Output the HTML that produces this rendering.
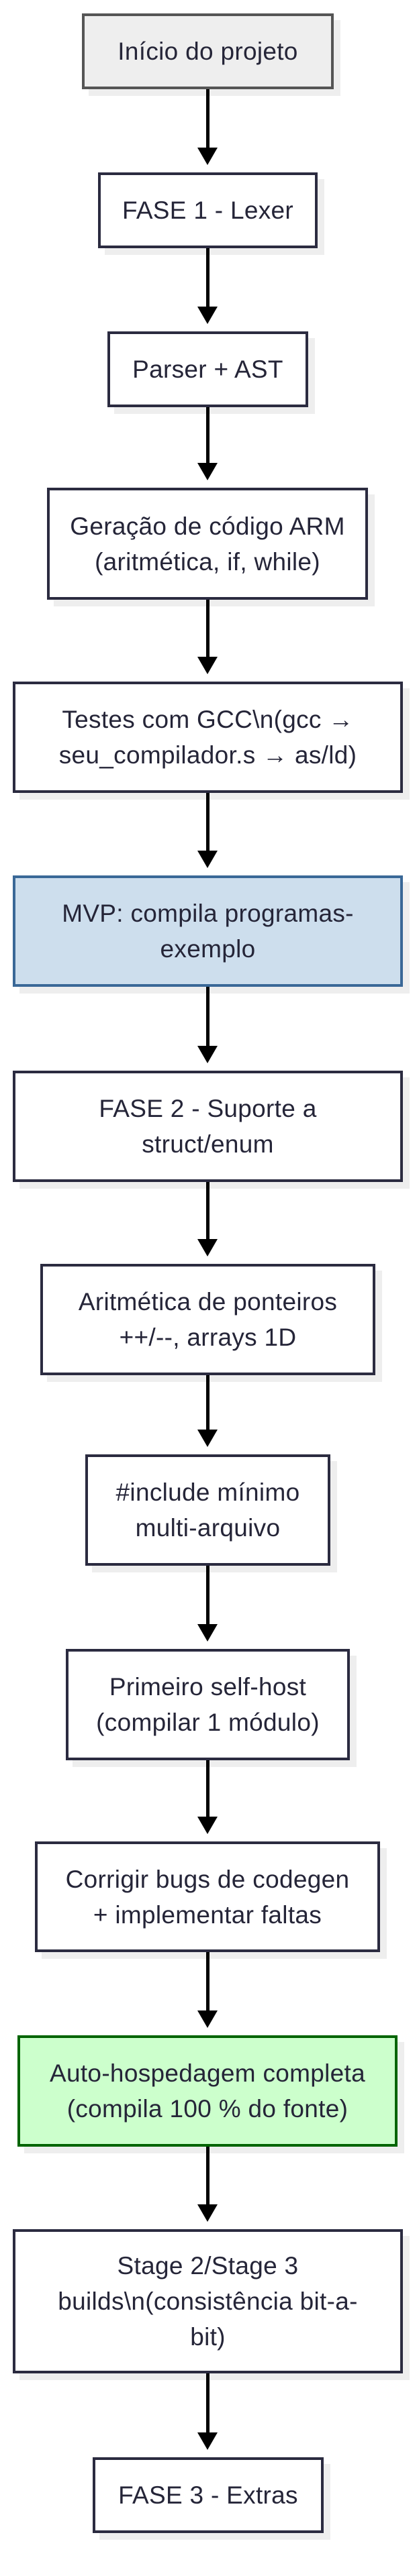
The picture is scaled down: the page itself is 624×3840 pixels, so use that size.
<!DOCTYPE html>
<html><head><meta charset="utf-8"><style>
body{margin:0;background:#fff;}
#c{position:relative;width:624px;height:3840px;overflow:hidden;background:#fff;}
.b{position:absolute;box-sizing:border-box;border:4px solid #2b2b40;background:#fff;display:flex;align-items:center;justify-content:center;text-align:center;font-family:"Liberation Sans",sans-serif;font-size:37px;line-height:53px;color:#252538;box-shadow:10px 10px 0 #eeeeee;letter-spacing:0.3px;}
.s{position:absolute;left:307px;width:5px;background:#000;}
.h{position:absolute;left:294px;width:0;height:0;border-left:15.5px solid transparent;border-right:15.5px solid transparent;border-top:26px solid #000;}
</style></head><body><div id="c">
<div class="b" style="left:122px;top:20px;width:375px;height:113px;background:#eeeeee;border-color:#555;">Início do projeto</div>
<div class="b" style="left:146px;top:257px;width:327px;height:113px;">FASE 1 - Lexer</div>
<div class="b" style="left:160px;top:494px;width:299px;height:113px;">Parser + AST</div>
<div class="b" style="left:70px;top:727px;width:478px;height:167px;">Geração de código ARM<br>(aritmética, if, while)</div>
<div class="b" style="left:19px;top:1016px;width:581px;height:166px;">Testes com GCC\n(gcc →<br>seu_compilador.s → as/ld)</div>
<div class="b" style="left:19px;top:1305px;width:581px;height:166px;background:#cddeed;border-color:#3a6897;">MVP: compila programas-<br>exemplo</div>
<div class="b" style="left:19px;top:1596px;width:581px;height:166px;">FASE 2 - Suporte a<br>struct/enum</div>
<div class="b" style="left:60px;top:1884px;width:499px;height:166px;">Aritmética de ponteiros<br>++/--, arrays 1D</div>
<div class="b" style="left:127px;top:2168px;width:365px;height:166px;">#include mínimo<br>multi-arquivo</div>
<div class="b" style="left:98px;top:2458px;width:423px;height:166px;">Primeiro self-host<br>(compilar 1 módulo)</div>
<div class="b" style="left:52px;top:2745px;width:514px;height:165px;">Corrigir bugs de codegen<br>+ implementar faltas</div>
<div class="b" style="left:26px;top:3034px;width:566px;height:166px;background:#ccffcc;border-color:#006400;">Auto-hospedagem completa<br>(compila 100 % do fonte)</div>
<div class="b" style="left:19px;top:3323px;width:581px;height:215px;">Stage 2/Stage 3<br>builds\n(consistência bit-a-<br>bit)</div>
<div class="b" style="left:138px;top:3663px;width:344px;height:113px;">FASE 3 - Extras</div>

<div class="s" style="top:133px;height:90px"></div><div class="h" style="top:220px"></div>
<div class="s" style="top:370px;height:90px"></div><div class="h" style="top:457px"></div>
<div class="s" style="top:607px;height:87px"></div><div class="h" style="top:690px"></div>
<div class="s" style="top:894px;height:86px"></div><div class="h" style="top:979px"></div>
<div class="s" style="top:1182px;height:86px"></div><div class="h" style="top:1268px"></div>
<div class="s" style="top:1471px;height:88px"></div><div class="h" style="top:1559px"></div>
<div class="s" style="top:1762px;height:86px"></div><div class="h" style="top:1847px"></div>
<div class="s" style="top:2050px;height:82px"></div><div class="h" style="top:2131px"></div>
<div class="s" style="top:2334px;height:88px"></div><div class="h" style="top:2421px"></div>
<div class="s" style="top:2624px;height:84px"></div><div class="h" style="top:2708px"></div>
<div class="s" style="top:2910px;height:88px"></div><div class="h" style="top:2997px"></div>
<div class="s" style="top:3200px;height:87px"></div><div class="h" style="top:3286px"></div>
<div class="s" style="top:3538px;height:89px"></div><div class="h" style="top:3626px"></div>
</div></body></html>
